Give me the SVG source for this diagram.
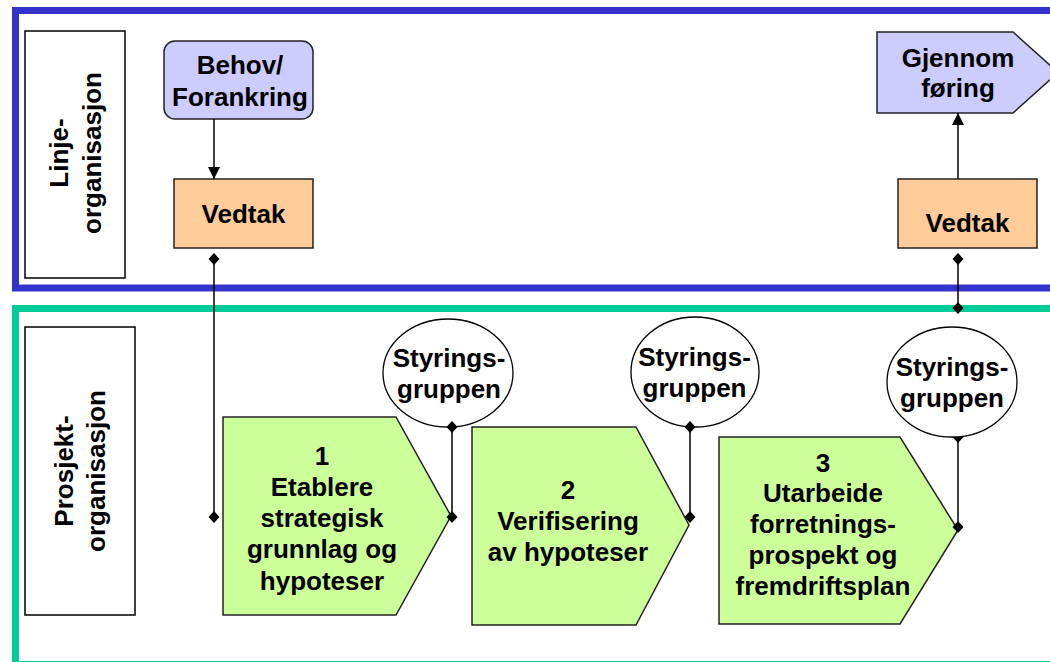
<svg xmlns="http://www.w3.org/2000/svg" width="1050" height="662" viewBox="0 0 1050 662">
<style>
text{font-family:"Liberation Sans",Arial,sans-serif;font-weight:bold;font-size:26px;fill:#000;text-anchor:middle}
.frameB{fill:none;stroke:#3333CC;stroke-width:7}
.frameG{fill:none;stroke:#00CC99;stroke-width:7}
.lbl{fill:#fff;stroke:#000;stroke-width:1.5}
.shape{stroke:#222;stroke-width:1.5}
.lav{fill:#CCCCFF}
.peach{fill:#FFCC99}
.green{fill:#CCFF99}
.circ{fill:#fff;stroke:#000;stroke-width:1.3}
.con{fill:none;stroke:#000;stroke-width:1.5}
</style>
<defs>
<marker id="dia" viewBox="-7 -7 14 14" markerWidth="14" markerHeight="14" markerUnits="userSpaceOnUse" refX="0" refY="0" orient="0">
<path d="M0,-6 L5.5,0 L0,6 L-5.5,0 Z" fill="#000"/>
</marker>
<marker id="half" viewBox="-7 -7 14 14" markerWidth="14" markerHeight="14" markerUnits="userSpaceOnUse" refX="0" refY="0" orient="0">
<path d="M-5.5,0 L5.5,0 L0,6 Z" fill="#000"/>
</marker>
<marker id="arr" viewBox="0 -7 13 14" markerWidth="13" markerHeight="14" markerUnits="userSpaceOnUse" refX="12" refY="0" orient="auto">
<path d="M0,-6 L12,0 L0,6 Z" fill="#000"/>
</marker>
</defs>
<rect width="1050" height="662" fill="#fff"/>
<g id="frame-linje">
<rect class="frameB" x="15.5" y="10.5" width="1100" height="277.5"/>
</g>
<g id="frame-prosjekt">
<rect class="frameG" x="15.5" y="308.5" width="1100" height="356"/>
</g>
<g id="label-linje">
<rect class="lbl" x="25" y="31" width="100" height="247"/>
<text transform="translate(68,153) rotate(-90)"><tspan x="0" y="0">Linje-</tspan><tspan x="0" y="33">organisasjon</tspan></text>
</g>
<g id="label-prosjekt">
<rect class="lbl" x="25" y="327" width="110" height="288"/>
<text transform="translate(73,471) rotate(-90)"><tspan x="0" y="0">Prosjekt-</tspan><tspan x="0" y="32">organisasjon</tspan></text>
</g>
<g id="behov">
<rect class="shape lav" x="164" y="41" width="149" height="78" rx="11" ry="11"/>
<text x="240" y="74">Behov/</text>
<text x="240" y="105.5">Forankring</text>
</g>
<g id="vedtak1">
<rect class="shape peach" x="174" y="179" width="139" height="69"/>
<text x="243.5" y="223">Vedtak</text>
</g>
<g id="gjennomforing">
<path class="shape lav" d="M877,32 L1013,32 L1058,72.5 L1013,113 L877,113 Z"/>
<text x="958" y="67">Gjennom</text>
<text x="958" y="97">føring</text>
</g>
<g id="vedtak2">
<rect class="shape peach" x="898" y="179" width="139" height="69"/>
<text x="967.5" y="232">Vedtak</text>
</g>
<g id="styring1">
<ellipse class="circ" cx="448" cy="373" rx="65" ry="54"/>
<text x="449" y="367">Styrings-</text>
<text x="449" y="398">gruppen</text>
</g>
<g id="styring2">
<ellipse class="circ" cx="695" cy="372" rx="64" ry="55"/>
<text x="694.5" y="366">Styrings-</text>
<text x="694.5" y="397">gruppen</text>
</g>
<g id="styring3">
<ellipse class="circ" cx="952" cy="382" rx="65" ry="55"/>
<text x="952" y="376">Styrings-</text>
<text x="952" y="407">gruppen</text>
</g>
<g id="steg1">
<path class="shape green" d="M223,417 L396,417 L451,516 L396,615 L223,615 Z"/>
<text x="322" y="465">1</text>
<text x="322" y="496">Etablere</text>
<text x="322" y="527">strategisk</text>
<text x="322" y="558">grunnlag og</text>
<text x="322" y="590">hypoteser</text>
</g>
<g id="steg2">
<path class="shape green" d="M472,427 L636,427 L689,525 L636,625 L472,625 Z"/>
<text x="568" y="498.5">2</text>
<text x="568" y="530">Verifisering</text>
<text x="568" y="561">av hypoteser</text>
</g>
<g id="steg3">
<path class="shape green" d="M719,437 L900,437 L958,530 L900,624 L719,624 Z"/>
<text x="823" y="471.5">3</text>
<text x="823" y="502">Utarbeide</text>
<text x="823" y="533">forretnings-</text>
<text x="823" y="564">prospekt og</text>
<text x="823" y="595">fremdriftsplan</text>
</g>
<g id="connectors">
<path class="con" d="M214,119 V179" marker-end="url(#arr)"/>
<path class="con" d="M214,259 V517" marker-start="url(#dia)" marker-end="url(#dia)"/>
<path class="con" d="M452,427 V517" marker-start="url(#dia)" marker-end="url(#dia)"/>
<path class="con" d="M690,427 V517" marker-start="url(#dia)" marker-end="url(#dia)"/>
<path class="con" d="M958,437 V527" marker-start="url(#half)" marker-end="url(#dia)"/>
<path class="con" d="M958,259 V308" marker-start="url(#dia)" marker-end="url(#dia)"/>
<path class="con" d="M958,179 V113" marker-end="url(#arr)"/>
</g>
</svg>
